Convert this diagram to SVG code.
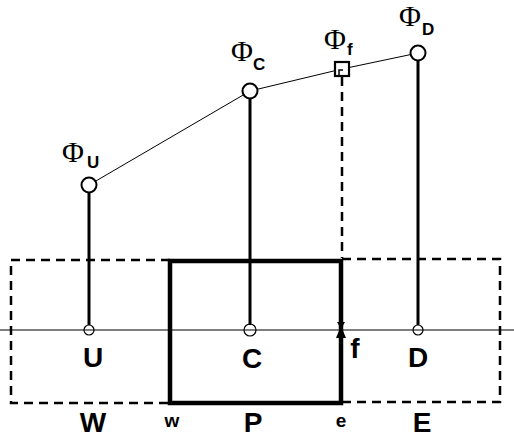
<svg xmlns="http://www.w3.org/2000/svg" width="514" height="439" viewBox="0 0 514 439">
<style>
.phi{font-family:"Liberation Serif",serif;font-size:30px;fill:#000}
.sub{font-family:"Liberation Sans",Arial,sans-serif;font-weight:bold;font-size:17px;fill:#000}
.lbl{font-family:"Liberation Sans",Arial,sans-serif;font-weight:bold;font-size:28px;fill:#000}
.sm{font-family:"Liberation Sans",Arial,sans-serif;font-weight:bold;font-size:19px;fill:#000}
.dash{fill:none;stroke:#000;stroke-width:2.5;stroke-dasharray:9,6}
.stem{stroke:#000;stroke-width:3}
.node{fill:#fff;stroke:#000;stroke-width:2}
.pt{fill:none;stroke:#000;stroke-width:1.2}
</style>
<rect width="514" height="439" fill="#fff"/>
<g id="cells">
<path class="dash" d="M170,260 H11 V403 H170"/>
<path class="dash" d="M342,259 H500 V402 H342"/>
<rect id="P-cell" x="170" y="261" width="171" height="142" fill="none" stroke="#000" stroke-width="4.5"/>
</g>
<g id="connectors">
<line x1="0" y1="330" x2="514" y2="330" stroke="#000" stroke-width="1.2"/>
<polyline points="89,185 250,91 342,69 418,53" fill="none" stroke="#000" stroke-width="1"/>
<line class="stem" x1="89" y1="192" x2="89" y2="325"/>
<line class="stem" x1="250" y1="98" x2="250" y2="325"/>
<line class="stem" x1="418" y1="60" x2="418" y2="325"/>
<line class="dash" x1="342" y1="77" x2="342" y2="258" stroke-width="3"/>
<polygon points="336,338 346,338 341,326" fill="#000"/>
<polygon points="337,322 345,322 341,329" fill="#000"/>
</g>
<g id="node-U">
<circle class="node" cx="89" cy="185" r="7.5"/>
<circle class="pt" cx="89" cy="330" r="5"/>
<text class="phi" x="62" y="162">Φ</text><text class="sub" x="87" y="168">U</text>
<text class="lbl" x="93" y="367" text-anchor="middle">U</text>
</g>
<g id="node-C">
<circle class="node" cx="250" cy="91" r="7.5"/>
<circle class="pt" cx="250" cy="330" r="6"/>
<text class="phi" x="231" y="61">Φ</text><text class="sub" x="253" y="70">C</text>
<text class="lbl" x="252" y="368" text-anchor="middle">C</text>
</g>
<g id="node-f">
<rect x="335" y="62" width="14" height="14" fill="#fff" stroke="#000" stroke-width="2.2"/>
<path d="M339,76 V70 H343" fill="none" stroke="#000" stroke-width="1.5"/>
<text class="phi" x="324" y="49">Φ</text><text class="sub" x="347" y="55">f</text>
<text class="lbl" x="355" y="358" text-anchor="middle">f</text>
</g>
<g id="node-D">
<circle class="node" cx="418" cy="53" r="7.5"/>
<circle class="pt" cx="418" cy="330" r="5"/>
<text class="phi" x="399" y="26">Φ</text><text class="sub" x="422" y="35">D</text>
<text class="lbl" x="418" y="367" text-anchor="middle">D</text>
</g>
<g id="labels">
<text class="lbl" x="93" y="432" text-anchor="middle">W</text>
<text class="sm" x="172" y="427" text-anchor="middle">w</text>
<text class="lbl" x="253" y="432" text-anchor="middle">P</text>
<text class="sm" x="341" y="427" text-anchor="middle">e</text>
<text class="lbl" x="422" y="432" text-anchor="middle">E</text>
</g>
</svg>
